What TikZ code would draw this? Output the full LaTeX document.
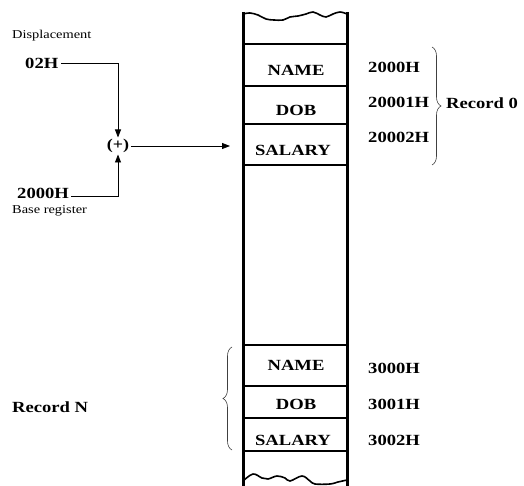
\documentclass[tikz,border=0pt]{standalone}
\usepackage{fontspec}
\setmainfont{Liberation Serif}
\newfontfamily\widefont[FakeStretch=1.2]{Liberation Serif}
\usetikzlibrary{arrows.meta,decorations.pathreplacing}
\tikzset{
  lbl/.style={font=\widefont\fontsize{15.5}{17}\selectfont\bfseries, inner sep=0pt},
  small/.style={font=\widefont\fontsize{12}{14}\selectfont, inner sep=0pt},
  col/.style={line width=3pt},
  sep/.style={line width=2pt},
  conn/.style={line width=0.8pt},
  arr/.style={conn,-{Triangle[length=8pt,width=6pt]}},
  brc/.style={line width=0.6pt, draw=black!75, decorate, decoration={brace, amplitude=9pt}}
}
\begin{document}
\begin{tikzpicture}[x=1pt,y=-1pt]
\useasboundingbox (0,0) rectangle (524,486);
% column
\draw[col] (243,12) -- (243,486);
\draw[col] (347,12) -- (347,486);
\draw[line width=1.6pt, line join=round] plot[smooth, tension=0.6] coordinates {(243,14) (250,13) (258,15) (266,19) (274,20) (283,20) (290,17) (298,16) (306,14) (313,12) (320,15) (326,17) (333,14) (340,12) (347,14)};
\draw[line width=1.6pt, line join=round] plot[smooth, tension=0.6] coordinates {(243,481) (253,474) (262,478) (268,479) (277,476) (285,478) (290,481) (302,476) (310,481) (315,484) (330,484) (338,482) (347,480)};
\foreach \y in {44,86,124,165,345,386,418,451} \draw[sep] (243,\y) -- (347,\y);
% cell texts
\node[lbl] (n0) at (296,70) {NAME};
\node[lbl] (d0) at (296,110) {DOB};
\node[lbl] (s0) at (293,150) {SALARY};
\node[lbl] (nN) at (296,365) {NAME};
\node[lbl] (dN) at (296,404) {DOB};
\node[lbl] (sN) at (293,440) {SALARY};
% addresses
\node[lbl, anchor=west] (a1) at (368,67) {2000H};
\node[lbl, anchor=west] (a2) at (368,102) {20001H};
\node[lbl, anchor=west] (a3) at (368,137) {20002H};
\node[lbl, anchor=west] (b1) at (368,368) {3000H};
\node[lbl, anchor=west] (b2) at (368,404) {3001H};
\node[lbl, anchor=west] (b3) at (368,440) {3002H};
% braces
\coordinate (r0t) at (432,47);
\coordinate (r0b) at (432,165);
\draw[brc] (r0t) -- (r0b);
\node[lbl, anchor=west] (rec0) at (446,103) {Record 0};
\coordinate (rNt) at (232,347);
\coordinate (rNb) at (232,450);
\draw[brc] (rNb) -- (rNt);
\node[lbl, anchor=west] (recN) at (12,407) {Record N};
% left side
\node[small, anchor=west] (disp) at (12,36) {Displacement};
\node[lbl, anchor=west] (d02) at (25,63) {02H};
\node[lbl, anchor=west] (base) at (17,193) {2000H};
\node[small, anchor=west] (breg) at (12,211) {Base register};
\node[small, font=\widefont\fontsize{15}{16}\selectfont\bfseries, inner sep=1.5pt] (plus) at (118,146) {(+)};
\coordinate (tgt) at (230,146);
\draw[arr] (d02.east) ++(3,0) -| (plus.north);
\draw[arr] (base.east) ++(2,3) -| (plus.south);
\draw[arr] (plus.east) -- (tgt);
\end{tikzpicture}
\end{document}
